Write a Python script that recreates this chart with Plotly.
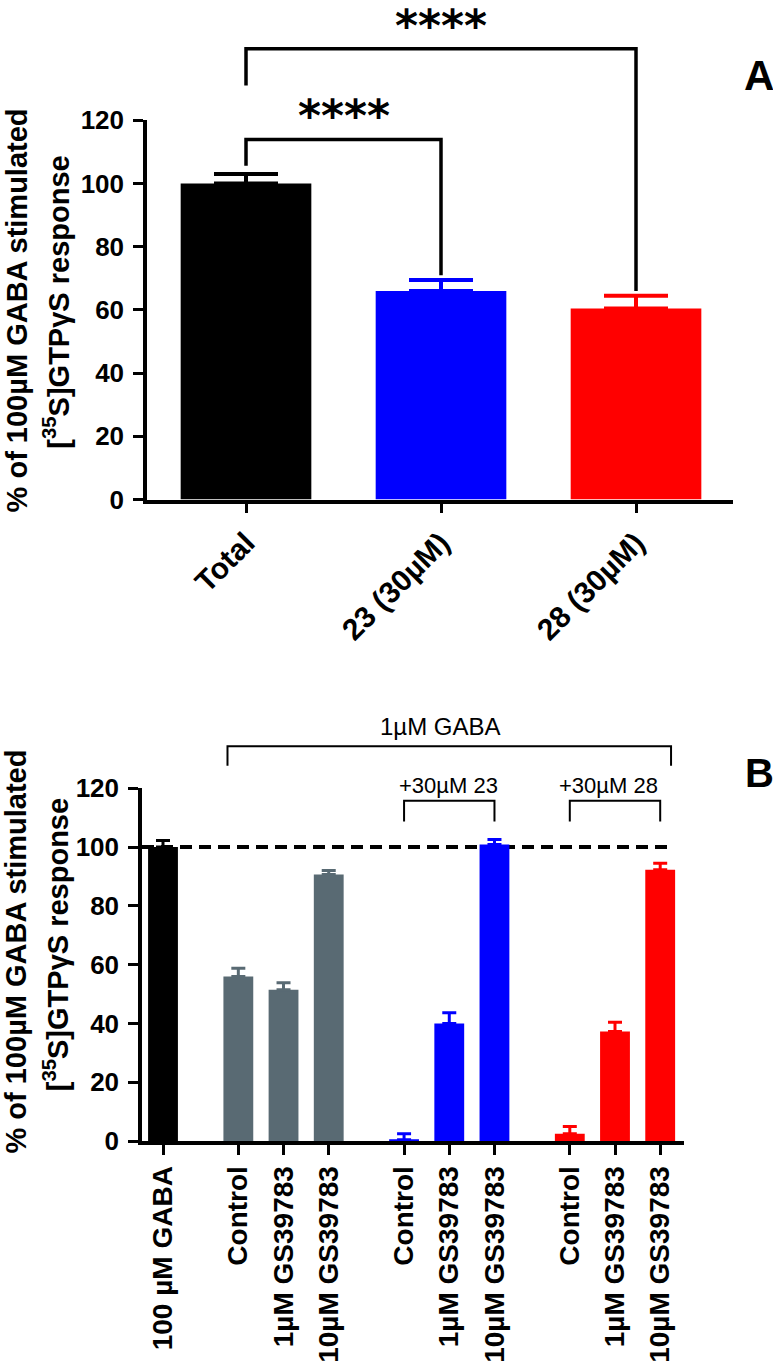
import plotly.graph_objects as go

# ---------------- Panel A data ----------------
a_labels = ["Total", "23 (30µM)", "28 (30µM)"]
a_values = [100.0, 66.0, 60.5]
a_errors = [3.0, 3.5, 4.0]
a_colors = ["#000000", "#0000ff", "#ff0000"]
a_yticks = [0, 20, 40, 60, 80, 100, 120]

# significance brackets in panel A
a_sig_left = [0, 0]
a_sig_right = [1, 2]
a_sig_left_low = [105.6, 131.0]
a_sig_top = [113.9, 142.6]
a_sig_right_low = [71.0, 66.0]
a_sig_label_y = [121.5, 150.0]
a_sig_text = ["****", "****"]

# ---------------- Panel B data ----------------
b_labels = ["100 µM GABA",
            "Control", "1µM GS39783", "10µM GS39783",
            "Control", "1µM GS39783", "10µM GS39783",
            "Control", "1µM GS39783", "10µM GS39783"]
b_groups = [0, 1, 1, 1, 2, 2, 2, 3, 3, 3]
b_values = [100.0, 56.0, 51.5, 90.7, 0.5, 40.0, 100.9, 2.5, 37.3, 92.3]
b_errors = [2.2, 2.8, 2.4, 1.3, 2.0, 3.7, 1.7, 2.5, 3.1, 2.2]
b_group_colors = ["#000000", "#596a73", "#0000ff", "#ff0000"]
b_yticks = [0, 20, 40, 60, 80, 100, 120]
b_ref_value = 100

# grouping brackets in panel B
b_br_text = ["1µM GABA", "+30µM 23", "+30µM 28"]
b_br_from = [1, 4, 7]
b_br_to = [9, 6, 9]
b_br_low = [127.6, 108.7, 108.7]
b_br_top = [134.3, 115.7, 115.7]
b_br_text_y = [140.9, 121.0, 121.0]

# ---------------- layout geometry (pixels) ----------------
W, H = 773, 1363
FONT = "Liberation Sans, Arial, sans-serif"

# panel A
A_L, A_R = 147, 733
A_TOP120, A_BOT = 108, 497
A_C0, A_STEP = 246, 195
a_scale = (A_BOT - A_TOP120) / 120.0
# panel B
B_L, B_R = 142, 684
B_TOP120, B_BOT = 793, 1155
B_EXT_TOP = 700
B_C0, B_STEP = 163, 45.2
b_scale = (B_BOT - B_TOP120) / 120.0
GROUP_GAP = 5.0 / 3.0


def py(p):
    return 1 - p / H


# x positions for panel B
b_x = []
pos = 0.0
for i, g in enumerate(b_groups):
    if i > 0:
        pos += 1.0 if g == b_groups[i - 1] else GROUP_GAP
    b_x.append(pos)

fig = go.Figure()

# ---- Panel A bars ----
for i, (v, e, c) in enumerate(zip(a_values, a_errors, a_colors)):
    fig.add_trace(go.Bar(
        x=[i], y=[v], width=0.67, marker=dict(color=c, line=dict(width=0)),
        error_y=dict(type="data", array=[e], arrayminus=[0], symmetric=False,
                     color=c, thickness=4, width=32),
        xaxis="x", yaxis="y", showlegend=False))

# ---- Panel A brackets ----
for xl, xr, lo_l, top, lo_r in zip(a_sig_left, a_sig_right, a_sig_left_low,
                                   a_sig_top, a_sig_right_low):
    fig.add_trace(go.Scatter(
        x=[xl, xl, xr, xr], y=[lo_l, top, top, lo_r], mode="lines",
        line=dict(color="black", width=3.5), xaxis="x", yaxis="y3",
        showlegend=False, hoverinfo="skip"))

# ---- Panel B bars ----
for g, col in enumerate(b_group_colors):
    idx = [i for i, gg in enumerate(b_groups) if gg == g]
    fig.add_trace(go.Bar(
        x=[b_x[i] for i in idx], y=[b_values[i] for i in idx], width=0.66,
        marker=dict(color=col, line=dict(width=0)),
        error_y=dict(type="data", array=[b_errors[i] for i in idx],
                     arrayminus=[0] * len(idx), symmetric=False,
                     color=col, thickness=3, width=7),
        xaxis="x2", yaxis="y2", showlegend=False))

# ---- Panel B brackets ----
for k, (i0, i1, lo, top) in enumerate(zip(b_br_from, b_br_to, b_br_low, b_br_top)):
    pad = 0.24 if k == 0 else 0.0
    xl, xr = b_x[i0] - pad, b_x[i1] + pad
    fig.add_trace(go.Scatter(
        x=[xl, xl, xr, xr], y=[lo, top, top, lo], mode="lines",
        line=dict(color="black", width=2), xaxis="x2", yaxis="y4",
        showlegend=False, hoverinfo="skip"))

# dashed reference line in panel B
fig.add_shape(type="line", xref="x2", yref="y2",
              x0=(B_L - B_C0) / B_STEP, x1=b_x[-1] + 0.28,
              y0=b_ref_value, y1=b_ref_value, layer="below",
              line=dict(color="black", width=4, dash="12px,7px"))

annotations = []
# stars
for xl, xr, yl, t in zip(a_sig_left, a_sig_right, a_sig_label_y, a_sig_text):
    annotations.append(dict(x=(xl + xr) / 2, y=yl, xref="x", yref="y3", text=t,
                            showarrow=False, xanchor="center", yanchor="middle",
                            font=dict(family="DejaVu Sans", size=44, color="black",
                                      weight="bold")))
# panel B bracket labels
b_shift = [-9, -1, -7]
b_br_size = [24, 22, 22]
for k, (i0, i1, t, ty) in enumerate(zip(b_br_from, b_br_to, b_br_text, b_br_text_y)):
    annotations.append(dict(x=(b_x[i0] + b_x[i1]) / 2, y=ty, xref="x2", yref="y4",
                            text=t, showarrow=False, xanchor="center",
                            yanchor="middle", xshift=b_shift[k],
                            font=dict(family=FONT, size=b_br_size[k], color="black")))

# y-axis titles
title1 = "% of 100µM GABA stimulated"
title2 = "[<sup>35</sup>S]GTPγS response"
for cy1, cy2 in [(303.5, 295), (961, 954)]:
    annotations.append(dict(x=16.5 / W, y=py(cy1), xref="paper", yref="paper",
                            text=title1, textangle=-90, showarrow=False,
                            xanchor="center", yanchor="middle",
                            font=dict(family=FONT, size=29, color="black",
                                      weight="bold")))
    annotations.append(dict(x=56 / W, y=py(cy2), xref="paper", yref="paper",
                            text=title2, textangle=-90, showarrow=False,
                            xanchor="center", yanchor="middle",
                            font=dict(family=FONT, size=29, color="black",
                                      weight="bold")))

# panel letters
annotations.append(dict(x=759 / W, y=py(62), xref="paper", yref="paper", text="A",
                        showarrow=False, xanchor="center", yanchor="middle",
                        font=dict(family=FONT, size=42, color="black", weight="bold")))
annotations.append(dict(x=759.5 / W, y=py(777), xref="paper", yref="paper", text="B",
                        showarrow=False, xanchor="center", yanchor="middle",
                        font=dict(family=FONT, size=40, color="black", weight="bold")))

axis_common = dict(showline=True, linecolor="black", linewidth=3.5, ticks="outside",
                   ticklen=10, tickwidth=3, tickcolor="black", showgrid=False,
                   zeroline=False)

fig.update_layout(
    width=W, height=H, margin=dict(l=0, r=0, t=0, b=0),
    paper_bgcolor="white", plot_bgcolor="rgba(0,0,0,0)", barmode="overlay",
    font=dict(family=FONT, color="black"),
    showlegend=False,
    xaxis=dict(domain=[A_L / W, A_R / W],
               range=[(A_L - A_C0) / A_STEP, (A_R - A_C0) / A_STEP],
               anchor="y", tickmode="array", tickvals=list(range(len(a_labels))),
               ticktext=a_labels, tickangle=-45,
               tickfont=dict(family=FONT, size=30, color="black", weight="bold"),
               **axis_common),
    yaxis=dict(domain=[py(A_BOT), py(A_TOP120)], range=[0, 120], anchor="x",
               tickmode="array", tickvals=a_yticks, ticklabelstandoff=4,
               tickfont=dict(family=FONT, size=26, color="black", weight="bold"),
               **axis_common),
    yaxis3=dict(domain=[py(A_BOT), 1], range=[0, A_BOT / a_scale], anchor="x",
                visible=False, showgrid=False, zeroline=False),
    xaxis2=dict(domain=[B_L / W, B_R / W],
                range=[(B_L - B_C0) / B_STEP, (B_R - B_C0) / B_STEP],
                anchor="y2", tickmode="array", tickvals=b_x, ticktext=b_labels,
                tickangle=-90,
                tickfont=dict(family=FONT, size=28, color="black", weight="bold"),
                **axis_common),
    yaxis2=dict(domain=[py(B_BOT), py(B_TOP120)], range=[0, 120], anchor="x2",
                tickmode="array", tickvals=b_yticks, ticklabelstandoff=4,
                tickfont=dict(family=FONT, size=26, color="black", weight="bold"),
                **axis_common),
    yaxis4=dict(domain=[py(B_BOT), py(B_EXT_TOP)],
                range=[0, (B_BOT - B_EXT_TOP) / b_scale], anchor="x2",
                visible=False, showgrid=False, zeroline=False),
    annotations=annotations,
)

fig.write_html("out.html")
